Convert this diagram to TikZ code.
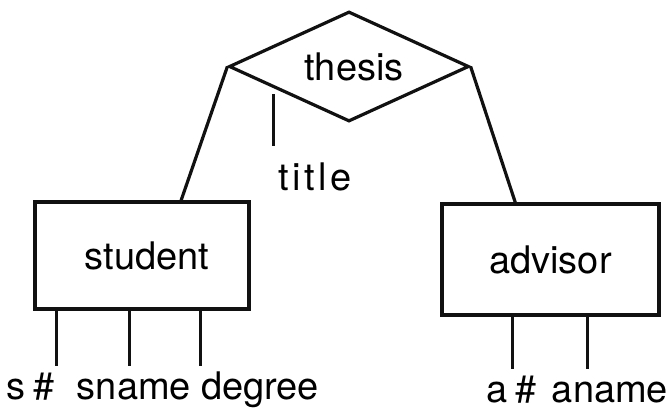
\documentclass[tikz,border=0pt]{standalone}
\usepackage{fontspec}
\setmainfont{TeX Gyre Heros}
\usetikzlibrary{shapes.geometric,calc}
\definecolor{ink}{HTML}{111111}

\begin{document}
\begin{tikzpicture}[x=0.5pt,y=-0.5pt,font=\fontsize{19}{22}\selectfont,
    line width=1.6pt,
    entity/.style={draw=ink,rectangle,inner sep=0pt},
    rel/.style={draw=ink,diamond,aspect=2.2,inner sep=0pt,minimum width=120pt,minimum height=55pt},
    attr/.style={inner sep=3.5pt,text height=12pt,text depth=4pt}]
  \useasboundingbox (0,0) rectangle (668,414);

  % relationship and the two entities
  \node[rel] (thesis) at (349,66.5) {\hspace{5pt}thesis};
  \node[entity,minimum width=107pt,minimum height=53.5pt] (student) at (142,255.5) {\hspace{5pt}student};
  \node[entity,minimum width=108.5pt,minimum height=55.5pt] (advisor) at (550.5,259.5) {advisor};

  \draw[ink] (thesis.west) -- ($(student.north west)!0.68!(student.north east)$);
  \draw[ink] (thesis.east) -- ($(advisor.north west)!0.34!(advisor.north east)$);

  % attribute of the relationship
  \node[attr,anchor=base west] (title) at (270,190) {\addfontfeatures{LetterSpace=9}title};
  \coordinate (tedge) at ($(thesis.west)!0.38!(thesis.south)$);
  \coordinate (tend) at (tedge |- title.north);
  \draw[ink] ([yshift=-3pt]tedge) -- ([yshift=5.5pt]tend);

  % entity attributes
  \foreach \f/\nm/\lbl/\x in {0.107/sno/{s\kern4pt\#}/31,0.444/sname/sname/134,0.771/deg/degree/260} {
    \node[attr,anchor=base] (\nm) at (\x,399) {\lbl};
    \coordinate (\nm-top) at ($(student.south west)!\f!(student.south east)$);
    \draw[ink] (\nm-top) -- (\nm-top |- \nm.north);
  }
  \foreach \f/\nm/\lbl/\x in {0.327/ano/{a\kern4pt\#}/512,0.668/aname/aname/610} {
    \node[attr,anchor=base] (\nm) at (\x,402) {\lbl};
    \coordinate (\nm-top) at ($(advisor.south west)!\f!(advisor.south east)$);
    \draw[ink] (\nm-top) -- (\nm-top |- \nm.north);
  }
\end{tikzpicture}
\end{document}
